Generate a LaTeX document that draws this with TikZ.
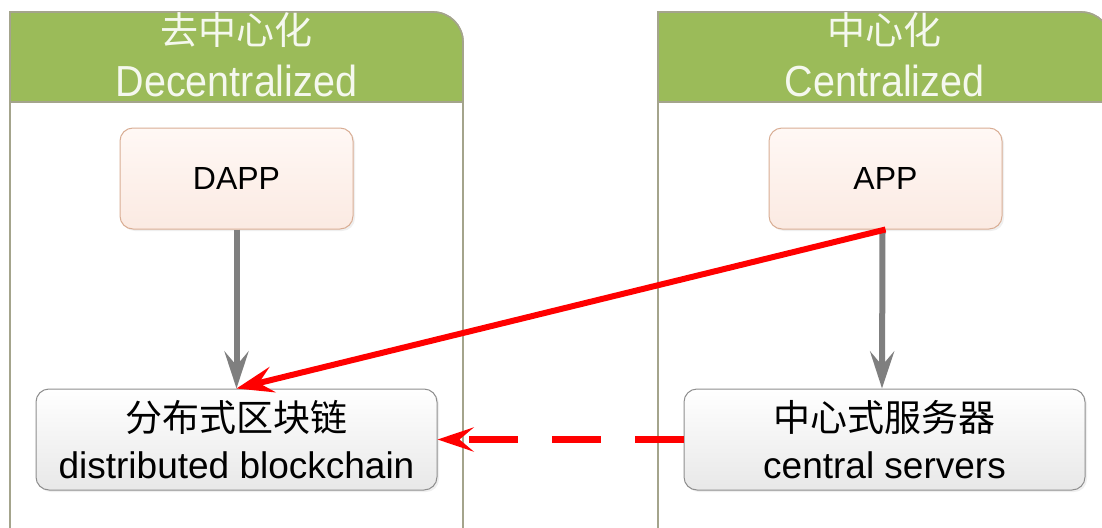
\documentclass[tikz,border=0pt]{standalone}
\usepackage{fontspec}
\setmainfont{Liberation Sans}
\newfontfamily\cjk{Noto Sans CJK SC}
\usetikzlibrary{arrows.meta,shadows}
\definecolor{hdrgreen}{HTML}{9BBB59}
\definecolor{panelline}{HTML}{A4A48C}
\definecolor{hdrtext}{HTML}{F5F8EE}
\definecolor{appline}{HTML}{D9AE95}
\definecolor{apptop}{HTML}{FFF8F5}
\definecolor{appbot}{HTML}{FBEAE2}
\definecolor{boxline}{HTML}{8E8E8E}
\definecolor{arrgray}{HTML}{7F7F7F}
\begin{document}
\begin{tikzpicture}[x=1pt,y=-1pt,
  panel/.style={draw=panelline,line width=1.6pt,fill=white},
  header/.style={draw=panelline,line width=1.6pt,fill=hdrgreen},
  hdrcjk/.style={text=hdrtext,font=\cjk\fontsize{38}{40}\selectfont,inner sep=0pt,anchor=base},
  hdreng/.style={text=hdrtext,font=\fontsize{39.5}{40}\selectfont,inner sep=0pt,anchor=base},
  appbox/.style={draw=appline,line width=1pt,rounded corners=13pt,top color=apptop,bottom color=appbot,
    minimum width=233pt,minimum height=101pt,font=\fontsize{32}{36}\selectfont,
    drop shadow={opacity=0.12,shadow xshift=2pt,shadow yshift=-2pt}},
  basebox/.style={draw=boxline,line width=1pt,rounded corners=13pt,top color=white,bottom color=black!9,
    minimum width=401pt,minimum height=101pt,align=center,font=\fontsize{37}{47}\selectfont,
    drop shadow={opacity=0.12,shadow xshift=2pt,shadow yshift=-2pt}},
  grayarrow/.style={draw=arrgray,line width=6pt,-{Stealth[length=37pt,width=24pt,inset=14pt]}},
  redarrow/.style={draw=red,line width=6pt,-{Stealth[length=37pt,width=26pt,inset=14pt]}},
  reddash/.style={draw=red,line width=7pt,dash pattern=on 49pt off 34pt,-{Stealth[length=36pt,width=24pt,inset=14pt]}}
]
\useasboundingbox (0,0) rectangle (1102,527);
\clip (0,0) rectangle (1102,527);
% left panel
\path[panel] (10,560) -- (10,12) -- (433,12) arc[start angle=-90,end angle=0,radius=30] -- (463,560);
\path[header] (10,102) -- (10,12) -- (433,12) arc[start angle=-90,end angle=0,radius=30] -- (463,102) -- cycle;
% right panel
\path[panel] (658,560) -- (658,12) -- (1081,12) arc[start angle=-90,end angle=0,radius=30] -- (1111,560);
\path[header] (658,102) -- (658,12) -- (1081,12) arc[start angle=-90,end angle=0,radius=30] -- (1111,102) -- cycle;
% headers
\node[hdrcjk] (t1) at (236.5,45) {去中心化};
\node[hdreng] (e1) at (236.5,96) {\scalebox{1}[1.1]{Decentralized}};
\node[hdrcjk] (t2) at (884.5,45) {中心化};
\node[hdreng] (e2) at (884.5,96) {\scalebox{1}[1.1]{Centralized}};
% boxes
\node[appbox] (dapp) at (236.5,178.5) {DAPP};
\node[appbox] (app) at (885.5,178.5) {APP};
\node[basebox] (chain) at (236.5,439.5) {{\cjk 分布式区块链}\\distributed blockchain};
\node[basebox] (srv) at (884.5,439.5) {{\cjk 中心式服务器}\\central servers};
% connectors
\draw[grayarrow] (dapp.south) -- (chain.north);
\draw[grayarrow] ([xshift=-3pt]app.south) -- ([xshift=-2.5pt]srv.north);
\draw[redarrow] (app.south) -- (chain.north);
\draw[reddash] (srv.west) -- (chain.east);
\end{tikzpicture}
\end{document}
